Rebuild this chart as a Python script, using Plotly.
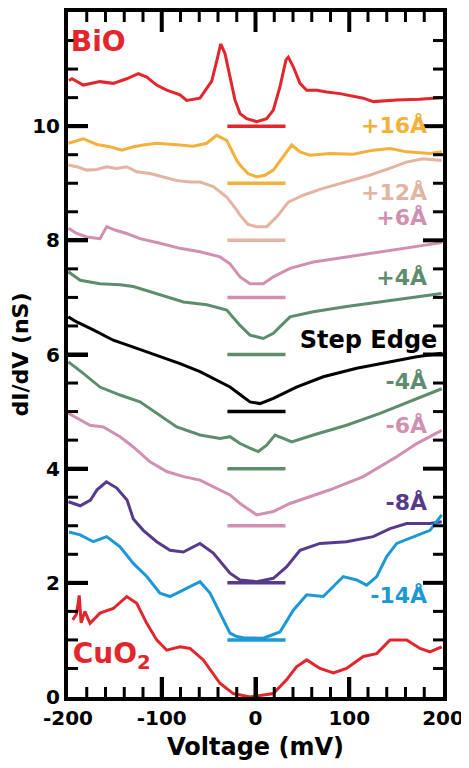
import plotly.graph_objects as go

# ---- data (voltage in mV, dI/dV in nS, already offset) ----
bio_v = [-199, -195.7, -183.7, -165.9, -151.7, -137.4, -125, -116, -105.4, -94.7, -80.5, -73.4, -59.2, -52, -46.7, -41.4, -37.1, -32.5, -27.2, -21.9, -16.5, -9.4, 1.3, 11.9, 19, 26.1, 32.5, 35, 40.3, 47.5, 54.6, 65.3, 76, 90.1, 115, 125.7, 150.6, 175, 189.7, 199]
bio_g = [10.80, 10.83, 10.72, 10.78, 10.75, 10.83, 10.92, 10.86, 10.72, 10.63, 10.55, 10.45, 10.49, 10.67, 10.79, 11.14, 11.44, 11.27, 10.86, 10.46, 10.22, 10.13, 10.08, 10.13, 10.28, 10.69, 11.16, 11.21, 11.04, 10.75, 10.63, 10.63, 10.60, 10.57, 10.49, 10.43, 10.46, 10.47, 10.49, 10.50]

p16_v = [-199.7, -183.7, -169.4, -155.2, -142.7, -130.3, -119.7, -105.4, -87.7, -66.3, -52.1, -41.4, -30.7, -20, -16.5, -8, 1.3, 10, 19, 29.7, 38.6, 47.5, 58.1, 79.5, 104.3, 125.7, 143.5, 161.3, 186.1, 198.6]
p16_g = [9.70, 9.78, 9.68, 9.64, 9.58, 9.64, 9.67, 9.70, 9.68, 9.65, 9.70, 9.84, 9.75, 9.40, 9.32, 9.17, 9.11, 9.14, 9.23, 9.46, 9.67, 9.55, 9.49, 9.52, 9.51, 9.58, 9.61, 9.55, 9.52, 9.55]

p12_v = [-199.7, -190.7, -180, -169.4, -158.7, -148, -137.4, -126.7, -112.5, -98.3, -84, -69.9, -59.2, -45, -30.7, -20, -16.5, -8, 1.3, 11.9, 22.6, 35, 50.7, 72, 96.9, 121.6, 143, 160.8, 178.5, 198.6]
p12_g = [9.32, 9.29, 9.23, 9.24, 9.29, 9.26, 9.29, 9.20, 9.17, 9.11, 9.05, 9.02, 9.02, 8.94, 8.76, 8.53, 8.44, 8.28, 8.24, 8.24, 8.41, 8.67, 8.79, 8.91, 9.02, 9.14, 9.26, 9.37, 9.43, 9.40]

p6_v = [-199.5, -190.7, -180, -165.9, -158.7, -149.9, -137.4, -123.2, -101.9, -80.5, -59.2, -37.9, -27.2, -16.5, -5.9, 8.3, 19, 36.8, 61.7, 97.1, 132.8, 168.3, 198.6]
p6_g = [8.21, 8.12, 8.06, 8.03, 8.24, 8.18, 8.12, 8.03, 7.95, 7.86, 7.80, 7.71, 7.59, 7.36, 7.24, 7.24, 7.36, 7.51, 7.62, 7.71, 7.79, 7.88, 7.96]

p4_v = [-199.7, -187, -165.9, -144.5, -130.3, -112.5, -94.7, -76.8, -51.9, -30.7, -16.5, -5.9, 8.3, 19, 36.8, 61.7, 97.1, 132.8, 168.3, 198.6]
p4_g = [7.45, 7.30, 7.24, 7.22, 7.19, 7.10, 7.01, 6.92, 6.87, 6.78, 6.51, 6.34, 6.28, 6.37, 6.66, 6.75, 6.84, 6.92, 7.01, 7.07]

step_v = [-199.7, -190.7, -173, -151.7, -130.3, -105.4, -80.5, -59.2, -37.9, -27.2, -16.5, -5.9, 4.8, 19, 43.7, 72.3, 107.9, 143.5, 172, 198.6]
step_g = [6.66, 6.57, 6.43, 6.25, 6.13, 5.99, 5.84, 5.70, 5.52, 5.43, 5.30, 5.17, 5.14, 5.23, 5.43, 5.61, 5.76, 5.87, 5.96, 6.02]

m4_v = [-199.7, -183.7, -165.9, -144.5, -123.2, -105.4, -84, -59.2, -37.9, -27.2, -16.5, -5.9, 3, 11.9, 20.8, 29.7, 38.6, 61.7, 97.1, 132.8, 168.3, 198.6]
m4_g = [5.87, 5.67, 5.43, 5.29, 5.17, 4.97, 4.73, 4.59, 4.53, 4.56, 4.44, 4.36, 4.30, 4.41, 4.59, 4.53, 4.47, 4.59, 4.76, 4.97, 5.20, 5.40]

m6_v = [-199.7, -187, -176.5, -162.3, -144.5, -130.3, -112.5, -94.7, -76.8, -59.2, -41.4, -27.2, -16.5, 1.3, 19, 36.8, 79.5, 114.9, 150.6, 172, 198.6]
m6_g = [4.97, 4.85, 4.76, 4.73, 4.56, 4.38, 4.12, 3.95, 3.86, 3.80, 3.66, 3.54, 3.39, 3.19, 3.25, 3.39, 3.63, 3.86, 4.21, 4.44, 4.67]

m8_v = [-199.5, -187, -176, -169, -159, -148, -137, -130.3, -119.7, -105.4, -91.2, -77, -59.2, -45, -27.2, -16.5, 1.3, 19, 33.1, 47.5, 68.8, 97.1, 125.5, 143.5, 161.3, 186.1, 198.6]
m8_g = [3.42, 3.35, 3.45, 3.63, 3.77, 3.66, 3.45, 3.12, 2.92, 2.72, 2.57, 2.54, 2.69, 2.52, 2.17, 2.05, 2.02, 2.08, 2.28, 2.57, 2.69, 2.72, 2.81, 2.95, 3.04, 3.04, 3.07]

m14_v = [-199, -187, -173, -158.7, -144.5, -130.3, -116, -101.9, -91.2, -77, -59.2, -48.5, -34.3, -27.2, -20, -13, 8.3, 26.1, 40.3, 54.6, 72.3, 93.6, 107.9, 118.6, 129.3, 139.9, 150.6, 168.3, 186.1, 198.6]
m14_g = [2.89, 2.84, 2.72, 2.81, 2.63, 2.34, 2.11, 1.82, 1.76, 1.87, 2.02, 1.82, 1.35, 1.12, 1.06, 1.04, 1.03, 1.14, 1.52, 1.79, 1.76, 2.11, 2.05, 1.96, 2.11, 2.46, 2.69, 2.81, 2.92, 3.19]

cuo_v = [-195, -191, -188, -186, -182, -176.5, -165.9, -151.7, -137.4, -126.7, -116, -105.4, -94.7, -80.5, -69.9, -55.7, -37.9, -23.7, -5.9, 19, 33.1, 43.7, 54.6, 68.8, 83, 97.1, 115, 129.3, 143.5, 161.3, 175.5, 186.1, 198.6]
cuo_g = [1.35, 1.45, 1.78, 1.30, 1.50, 1.29, 1.47, 1.55, 1.76, 1.64, 1.29, 1.00, 0.82, 0.88, 0.85, 0.65, 0.24, 0.06, 0.00, 0.06, 0.30, 0.53, 0.65, 0.50, 0.42, 0.50, 0.71, 0.76, 1.00, 1.00, 0.85, 0.79, 0.88]

# zero-conductance markers for each offset curve
bar_levels = [10, 9, 8, 7, 6, 5, 4, 3, 2, 1]
bar_v = [-30, 32]

labels = ["+16Å", "+12Å", "+6Å", "+4Å", "Step Edge", "-4Å", "-6Å", "-8Å", "-14Å"]
label_x = [183, 183, 183, 183, 194, 183, 183, 183, 183]
label_y = [9.97, 8.80, 8.36, 7.32, 6.22, 5.50, 4.72, 3.38, 1.74]

# axis ticks
x_ticks = [-200, -100, 0, 100, 200]
y_ticks = [0, 2, 4, 6, 8, 10]
x_minor = [-180, -160, -140, -120, -80, -60, -40, -20, 20, 40, 60, 80, 120, 140, 160, 180]
y_minor = [0.5, 1, 1.5, 2.5, 3, 3.5, 4.5, 5, 5.5, 6.5, 7, 7.5, 8.5, 9, 9.5, 10.5, 11, 11.5]
x_range = [-200, 200]
y_range = [0, 12]

RED = "#E3262B"
ORANGE = "#F3B03A"
PEACH = "#E3B4A1"
PINK = "#D28FB2"
GREEN = "#5E8D6D"
BLACK = "#000000"
PURPLE = "#563A8C"
BLUE = "#1C98D5"

curves = [
    (bio_v, bio_g, RED),
    (p16_v, p16_g, ORANGE),
    (p12_v, p12_g, PEACH),
    (p6_v, p6_g, PINK),
    (p4_v, p4_g, GREEN),
    (step_v, step_g, BLACK),
    (m4_v, m4_g, GREEN),
    (m6_v, m6_g, PINK),
    (m8_v, m8_g, PURPLE),
    (m14_v, m14_g, BLUE),
    (cuo_v, cuo_g, RED),
]
bar_colors = [RED, ORANGE, PEACH, PINK, GREEN, BLACK, GREEN, PINK, PURPLE, BLUE]
label_colors = [ORANGE, PEACH, PINK, GREEN, BLACK, GREEN, PINK, PURPLE, BLUE]

# figure geometry (the page body adds an 8px margin, so size/offset compensate)
W, H = 461, 760
ML, MR, MT, MB = 60, 26, 4, 71
plot_w = W - ML - MR
plot_h = H - MT - MB
x_per_px = (x_range[1] - x_range[0]) / plot_w
y_per_px = (y_range[1] - y_range[0]) / plot_h

FONT = "DejaVu Sans"
fig = go.Figure()
for lvl, col in zip(bar_levels, bar_colors):
    fig.add_trace(go.Scatter(x=bar_v, y=[lvl, lvl], mode="lines",
                             line=dict(color=col, width=3.5), showlegend=False))
for xv, yv, col in curves:
    fig.add_trace(go.Scatter(x=xv, y=yv, mode="lines",
                             line=dict(color=col, width=3), showlegend=False))


# inward tick marks on all four sides, built from the tick values and the axis scale
def tick_trace(xvals, yvals, length_px, width):
    xs, ys = [], []
    ly = length_px * y_per_px
    lx = length_px * x_per_px
    for v in xvals:
        xs += [v, v, None, v, v, None]
        ys += [y_range[0], y_range[0] + ly, None, y_range[1], y_range[1] - ly, None]
    for v in yvals:
        xs += [x_range[0], x_range[0] + lx, None, x_range[1], x_range[1] - lx, None]
        ys += [v, v, None, v, v, None]
    return go.Scatter(x=xs, y=ys, mode="lines", line=dict(color="black", width=width),
                      showlegend=False, hoverinfo="skip", cliponaxis=False)


fig.add_trace(tick_trace([v for v in x_ticks if v not in x_range],
                         [v for v in y_ticks if v not in y_range], 20, 4))
fig.add_trace(tick_trace(x_minor, y_minor, 10, 3))

# curve labels as text marks
for txt, xx, yy, col in zip(labels, label_x, label_y, label_colors):
    fig.add_trace(go.Scatter(x=[xx], y=[yy], mode="text", text=["<b>%s</b>" % txt],
                             textposition="middle left", showlegend=False,
                             textfont=dict(family=FONT, size=24 if txt == "Step Edge" else 22, color=col)))
fig.add_trace(go.Scatter(x=[-197], y=[11.44], mode="text", text=["<b>BiO</b>"], textposition="middle right",
                         showlegend=False, textfont=dict(family=FONT, size=28, color=RED)))
fig.add_trace(go.Scatter(x=[-195], y=[0.72], mode="text", text=["<b>CuO<sub>2</sub></b>"], textposition="middle right",
                         showlegend=False, textfont=dict(family=FONT, size=28, color=RED)))

fig.update_layout(
    xaxis=dict(range=x_range, ticks="inside", ticklen=20, tickwidth=4, tickcolor="black",
               showline=True, linewidth=4, linecolor="black", mirror=True, showgrid=False, zeroline=False,
               tickvals=x_ticks, ticktext=["<b>%d</b>" % v for v in x_ticks],
               tickfont=dict(family=FONT, size=20, color="black"), automargin=False,
               title=dict(text="<b>Voltage (mV)</b>", font=dict(family=FONT, size=24, color="black"), standoff=10)),
    yaxis=dict(range=y_range, ticks="inside", ticklen=20, tickwidth=4, tickcolor="black",
               showline=True, linewidth=4, linecolor="black", mirror=True, showgrid=False, zeroline=False,
               tickvals=y_ticks, ticktext=["<b>%d</b>" % v for v in y_ticks],
               tickfont=dict(family=FONT, size=20, color="black"), automargin=False,
               title=dict(text="<b>dI/dV (nS)</b>", font=dict(family=FONT, size=22, color="black"), standoff=2)),
    width=W, height=H, margin=dict(l=ML, r=MR, t=MT, b=MB),
    plot_bgcolor="white", showlegend=False,
)
fig.write_html("out.html")
